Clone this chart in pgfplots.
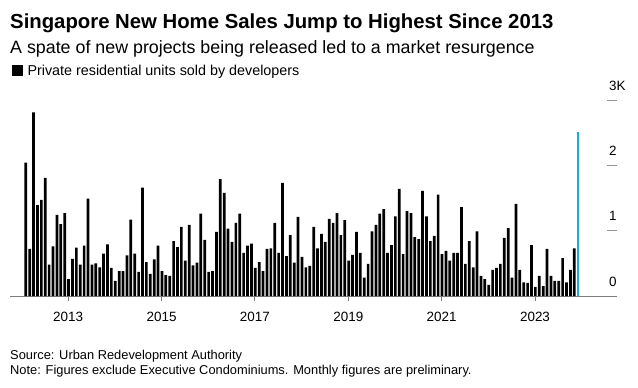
\documentclass[border=0pt]{standalone}
\usepackage{pgfplots}
\pgfplotsset{compat=1.18}
\usepackage{fontspec}
\setmainfont{Liberation Sans}
\definecolor{bbblue}{RGB}{20,168,245}
\definecolor{axgray}{RGB}{125,125,125}
\definecolor{tickgray}{RGB}{150,150,150}
\begin{document}
\begin{tikzpicture}
\useasboundingbox (0,0) rectangle (638bp,-388bp);
\fill[white] (0,0) rectangle (638bp,-388bp);
\begin{axis}[
  at={(10bp,-296bp)}, anchor=south west,
  scale only axis, width=607bp, height=196bp,
  xmin=-4.06, xmax=151.98, ymin=0, ymax=3,
  axis x line*=bottom, axis y line*=right,
  x axis line style={axgray, line width=1bp},
  y axis line style={draw=none},
  major tick length=0pt,
  xtick={10.9,34.9,58.9,82.9,106.9,130.9},
  xticklabels={2013,2015,2017,2019,2021,2023},
  xticklabel style={font=\fontsize{13.5}{15}\selectfont, anchor=base, yshift=-25.7bp, inner sep=0pt},
  ytick={0,1,2,3}, yticklabels={0,1,2,3K}, yticklabel pos=right,
  yticklabel style={font=\fontsize{13.5}{15}\selectfont, anchor=base west, xshift=-8bp, yshift=10bp, inner sep=0pt},
  ybar, bar shift=0pt, bar width=2.7bp,
  clip=false,
  legend style={at={(axis description cs:0.0033,1.1786)}, anchor=north west, draw=none, fill=none,
    inner sep=0pt, outer sep=0pt, nodes={inner sep=0pt},
    font=\fontsize{14.4}{16}\selectfont, cells={anchor=base west}},
  legend image code/.code={\fill[black] (0bp,-0.5bp) rectangle (11bp,10.5bp); \path (15.5bp,0bp);},
]
\addplot[fill=black, draw=none] coordinates {
(0,2.04) (1,0.72) (2,2.81) (3,1.39) (4,1.47) (5,1.81) (6,0.48) (7,0.76) (8,1.24) (9,1.10)
(10,1.27) (11,0.26) (12,0.57) (13,0.74) (14,0.48) (15,0.77) (16,1.49) (17,0.48) (18,0.50) (19,0.44)
(20,0.65) (21,0.79) (22,0.43) (23,0.23) (24,0.38) (25,0.38) (26,0.62) (27,1.17) (28,0.65) (29,0.37)
(30,1.66) (31,0.52) (32,0.34) (33,0.56) (34,0.77) (35,0.38) (36,0.32) (37,0.31) (38,0.84) (39,0.75)
(40,1.06) (41,0.54) (42,1.09) (43,0.47) (44,0.51) (45,1.26) (46,0.86) (47,0.37) (48,0.38) (49,0.98)
(50,1.79) (51,1.58) (52,1.03) (53,0.83) (54,1.12) (55,1.26) (56,0.66) (57,0.77) (58,0.80) (59,0.43)
(60,0.52) (61,0.38) (62,0.72) (63,0.73) (64,1.12) (65,0.66) (66,1.73) (67,0.61) (68,0.93) (69,0.51)
(70,1.21) (71,0.60) (72,0.44) (73,0.46) (74,1.06) (75,0.73) (76,0.95) (77,0.83) (78,1.18) (79,1.12)
(80,1.27) (81,0.93) (82,1.16) (83,0.54) (84,0.63) (85,0.98) (86,0.66) (87,0.28) (88,0.49) (89,0.99)
(90,1.09) (91,1.26) (92,1.33) (93,0.66) (94,0.78) (95,1.22) (96,1.64) (97,0.64) (98,1.30) (99,1.27)
(100,0.90) (101,0.87) (102,1.61) (103,1.22) (104,0.84) (105,0.92) (106,1.55) (107,0.64) (108,0.69) (109,0.54)
(110,0.66) (111,0.66) (112,1.36) (113,0.49) (114,0.84) (115,0.44) (116,0.99) (117,0.31) (118,0.26) (119,0.17)
(120,0.40) (121,0.43) (122,0.49) (123,0.89) (124,1.04) (125,0.28) (126,1.41) (127,0.40) (128,0.21) (129,0.20)
(130,0.78) (131,0.14) (132,0.31) (133,0.15) (134,0.72) (135,0.31) (136,0.23) (137,0.23) (138,0.58) (139,0.21)
(140,0.40) (141,0.73)
};
\addlegendentry{Private residential units sold by developers}
\addplot[fill=bbblue, draw=none, bar width=1.8bp, forget plot] coordinates {(142,2.51)};
\pgfplotsinvokeforeach{10.9,34.9,58.9,82.9,106.9,130.9}{
  \draw[axgray, line width=1bp] (axis cs:#1,0) -- ++(0pt,-5bp);
}
\pgfplotsinvokeforeach{1,2,3}{
  \draw[tickgray, line width=1bp] (axis cs:151.98,#1) -- ++(-10bp,0pt);
}
\end{axis}
\node[anchor=base west, inner sep=0pt] at (10bp,-28bp) {\fontsize{20.4}{22}\selectfont\bfseries Singapore New Home Sales Jump to Highest Since 2013};
\node[anchor=base west, inner sep=0pt] at (10bp,-53bp) {\fontsize{17.9}{20}\selectfont A spate of new projects being released led to a market resurgence};
\node[anchor=base west, inner sep=0pt] at (10bp,-359bp) {\fontsize{12.9}{14}\selectfont Source: Urban Redevelopment Authority};
\node[anchor=base west, inner sep=0pt] at (10bp,-374bp) {\fontsize{12.9}{14}\selectfont Note: Figures exclude Executive Condominiums. Monthly figures are preliminary.};
\end{tikzpicture}
\end{document}
